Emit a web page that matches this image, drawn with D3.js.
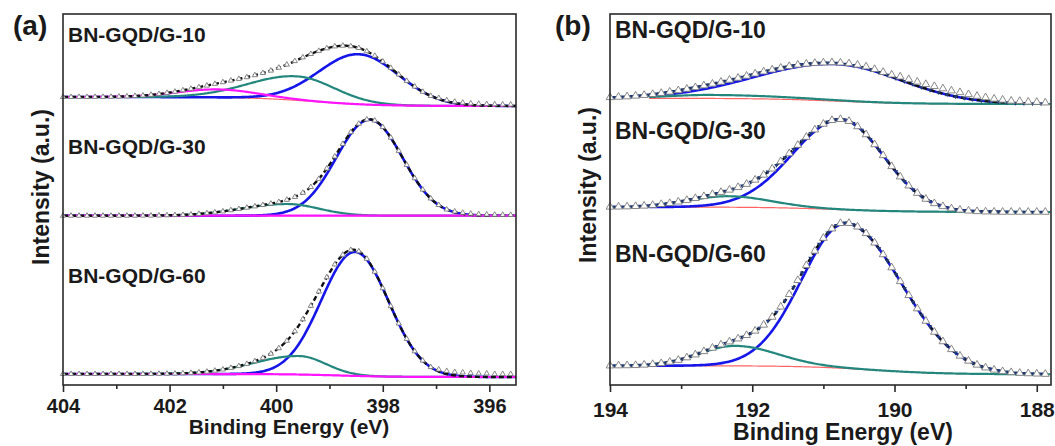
<!DOCTYPE html>
<meta charset="utf-8">
<script src="https://d3js.org/d3.v7.min.js"></script>
<style>
  body { margin: 0; background: #fff; }
  text { font-family: "Liberation Sans", Arial, sans-serif; font-weight: bold; fill: #1a1a1a; }
</style>
<div id="my_dataviz"></div>

<script>
var width = 1055
var height = 446

var samples = ["BN-GQD/G-10", "BN-GQD/G-30", "BN-GQD/G-60"]

// ---- (a) N 1s ----
// energy grid of the measured points (eV), intensities in arbitrary units
var energyA = d3.range(57).map(function(i){ return +(404 - 0.15 * i).toFixed(2) })
var dataA10 = [288.0,288.0,288.1,288.0,288.1,288.1,288.2,288.4,288.6,289.0,
               289.5,290.2,291.0,292.1,293.3,294.7,296.2,297.8,299.4,301.1,
               302.8,304.4,306.1,307.8,309.8,312.0,314.4,317.3,320.4,323.9,
               327.6,331.0,334.1,336.7,338.6,339.3,338.7,337.0,333.7,329.2,
               323.5,317.1,310.5,304.1,298.4,293.2,289.1,287.0,284.8,283.3,
               282.3,281.6,281.2,280.9,280.7,280.5,280.4]
var dataA30 = [169.3,169.3,169.3,169.3,169.3,169.3,169.3,169.3,169.3,169.3,
               169.4,169.4,169.5,169.7,169.9,170.1,170.5,171.1,171.8,172.6,
               173.6,174.8,176.0,177.3,178.6,180.0,181.4,183.0,185.2,188.1,
               192.2,198.0,206.1,216.5,228.5,241.1,252.8,261.3,265.5,264.4,
               257.9,247.4,234.1,220.1,206.8,195.4,186.5,180.0,175.5,173.5,
               172.2,171.3,170.8,170.5,170.3,170.2,170.1]
var dataA60 = [11.0,11.0,11.0,11.0,11.0,11.0,11.0,11.0,11.0,11.0,
               11.0,11.1,11.2,11.3,11.4,11.7,12.1,12.6,13.3,14.3,
               15.5,17.1,18.9,21.1,23.8,27.1,31.3,36.8,44.2,53.7,
               65.7,79.2,93.5,107.7,120.6,130.2,135.0,133.7,126.2,113.3,
               96.8,78.9,61.5,46.1,33.7,24.4,17.9,15.5,14.0,13.0,
               12.5,12.0,11.5,11.5,11.0,11.0,11.0]
// background [high-BE level, low-BE level, step centre, step width]
var bgA   = [[288, 279, 399.3, 0.6], [169.3, 169.3, 399, 0.6], [11, 8, 398.8, 0.5]]
// peaks [centre eV, height, sigma high-BE side, sigma low-BE side]
var blueA = [[398.45, 50, 0.75, 0.75], [398.25, 96, 0.62, 0.62], [398.52, 124, 0.63, 0.63]]
var tealA = [[399.6, 24, 0.9, 0.7], [399.8, 11.7, 0.85, 0.6], [399.57, 18.5, 0.85, 0.5]]
var pinkA = [[401.1, 8, 0.75, 0.75], [401.1, 0, 1, 1], [401.1, 0, 1, 1]]
var majorA = [404, 402, 400, 398, 396]
var minorA = [403, 401, 399, 397]

// ---- (b) B 1s ----
var energyB = d3.range(52).map(function(i){ return +(194 - 0.12 * i).toFixed(2) })
var dataB10 = [287.6,288.0,288.4,289.1,289.8,290.7,291.8,293.1,294.5,296.0,
               297.6,299.4,301.1,303.0,305.0,307.0,309.0,311.2,313.3,315.2,
               317.0,318.7,320.1,321.1,321.8,322.3,322.5,322.2,321.4,320.1,
               318.3,315.7,312.8,310.2,308.2,305.6,303.1,300.7,298.7,296.4,
               294.3,292.6,290.6,288.9,287.5,286.1,285.1,284.1,283.8,283.1,
               282.9,282.3]
var dataB30 = [178.1,178.2,178.4,178.7,179.1,179.8,180.7,181.7,183.2,184.8,
               186.7,188.6,190.7,192.8,195.1,197.7,200.9,205.1,210.1,216.2,
               223.5,231.5,239.9,247.9,255.3,261.0,264.7,265.7,263.8,258.5,
               250.5,240.5,229.6,218.6,208.3,199.3,191.9,186.0,181.6,178.6,
               176.4,175.1,174.2,173.6,173.3,173.1,173.0,173.0,173.0,173.0,
               173.0,173.0]
var dataB60 = [19.3,19.4,19.5,19.7,20.1,20.7,21.6,23.0,24.9,27.4,
               30.3,33.6,37.0,40.3,43.3,46.3,49.7,54.1,60.1,68.0,
               78.2,90.7,104.7,119.6,134.1,146.9,156.3,161.7,161.8,158.2,
               151.6,142.2,130.5,117.4,103.6,89.7,76.4,64.0,53.0,43.5,
               35.6,29.1,24.1,20.1,17.3,15.1,13.6,12.6,11.9,11.5,
               11.2,10.9]
var bgB   = [[286.7, 281, 190.8, 0.5], [178, 173, 190.8, 0.5], [19.3, 10.7, 190.3, 0.5]]
var blueB = [[190.82, 37, 1.12, 0.93], [190.75, 90, 0.68, 0.6], [190.68, 145, 0.62, 0.78]]
var tealB = [[192.6, 3.5, 0.6, 1.1], [192.34, 11, 0.55, 0.6], [192.24, 20, 0.5, 0.6]]
var majorB = [194, 192, 190, 188]
var minorB = [193, 191, 189]

var svg = d3.select("#my_dataviz")
  .append("svg")
    .attr("width", width)
    .attr("height", height)

function sig(z) { return 1 / (1 + Math.exp(-z)) }
function bgAt(b, e) { return b[1] + (b[0] - b[1]) * sig((e - b[2]) / b[3]) }
function peakAt(p, e) {
  if (!p) return 0
  var d = e - p[0]
  var s = d > 0 ? p[2] : p[3]
  return p[1] * Math.exp(-d * d / (2 * s * s))
}
function grid(a, b) { return d3.range(a, b - 0.001, -0.02) }

function drawPanel(p) {
  var x = d3.scaleLinear().domain(p.domain).range([p.left, p.right])
  var y = d3.scaleLinear().domain([0, 371]).range([385, 14])
  var g = svg.append("g")
  var line = d3.line().x(function(d){ return x(d[0]) }).y(function(d){ return y(d[1]) })

  p.data.forEach(function(pts, k) {
    var bg = p.bg[k], blue = p.blue[k], teal = p.teal[k], pink = p.pink ? p.pink[k] : null
    var env = function(e){ return bgAt(bg, e) + peakAt(blue, e) + peakAt(teal, e) + peakAt(pink, e) }
    var fit = grid(p.fit[0], p.fit[1])

    g.append("path")
      .datum(fit.map(function(e){ return [e, bgAt(bg, e)] }))
      .attr("d", line).attr("fill", "none")
      .attr("stroke", "#ff6464").attr("stroke-width", 1.2)
    g.append("path")
      .datum(grid(p.blueRange[0], p.blueRange[1]).map(function(e){ return [e, bgAt(bg, e) + peakAt(blue, e)] }))
      .attr("d", line).attr("fill", "none")
      .attr("stroke", "#1616e8").attr("stroke-width", 2.6)
    g.append("path")
      .datum(fit.map(function(e){ return [e, bgAt(bg, e) + peakAt(teal, e)] }))
      .attr("d", line).attr("fill", "none")
      .attr("stroke", "#23877e").attr("stroke-width", 2.2)
    if (pink) {
      g.append("path")
        .datum(fit.map(function(e){ return [e, bgAt(bg, e) + peakAt(pink, e)] }))
        .attr("d", line).attr("fill", "none")
        .attr("stroke", "#ff14ff").attr("stroke-width", 2.2)
    }
    g.append("path")
      .datum(grid(p.envRange[0], p.envRange[1]).map(function(e){ return [e, env(e)] }))
      .attr("d", line).attr("fill", "none")
      .attr("stroke", "#111").attr("stroke-width", 2.4)
      .attr("stroke-dasharray", "5,3")

    // fitted sum markers between the data points
    if (p.downMarks) {
      g.append("g").selectAll("path")
        .data(p.energy.slice(0, -1))
        .enter().append("path")
          .attr("d", d3.symbol().type(d3.symbolTriangle).size(9))
          .attr("transform", function(e){ var m = e - p.step / 2; return "translate(" + x(m) + "," + y(env(m)) + ") rotate(180)" })
          .attr("fill", "#1f3a78")
    }

    // measured points
    g.append("g").selectAll("path")
      .data(pts)
      .enter().append("path")
        .attr("d", d3.symbol().type(d3.symbolTriangle).size(p.triSize))
        .attr("transform", function(v, i){ return "translate(" + x(p.energy[i]) + "," + y(v) + ")" })
        .attr("fill", "#fff")
        .attr("stroke", "#7a7a7a")
        .attr("stroke-width", 0.9)

    g.append("text")
      .attr("x", p.left + 5)
      .attr("y", p.labelY[k])
      .style("font-size", p.labelSize + "px")
      .text(samples[k])
  })

  // frame
  g.append("rect")
    .attr("x", p.left).attr("y", 14)
    .attr("width", p.right - p.left).attr("height", 371)
    .attr("fill", "none").attr("stroke", "#2a2a2a").attr("stroke-width", 1.6)

  var ax = g.append("g")
    .attr("transform", "translate(0,385)")
    .call(d3.axisBottom(x).tickValues(p.major).tickSize(7).tickPadding(p.pad).tickFormat(d3.format("d")))
  ax.select(".domain").remove()
  ax.selectAll("line").attr("stroke", "#2a2a2a").attr("stroke-width", 1.6)
  ax.selectAll("text").style("font-size", p.tickSize + "px").attr("fill", "#1a1a1a")
    .style("font-family", "'Liberation Sans', Arial, sans-serif").style("font-weight", "bold")

  var mx = g.append("g")
    .attr("transform", "translate(0,385)")
    .call(d3.axisBottom(x).tickValues(p.minor).tickSize(4).tickFormat(""))
  mx.select(".domain").remove()
  mx.selectAll("line").attr("stroke", "#2a2a2a").attr("stroke-width", 1.6)

  g.append("text")
    .attr("x", p.titleX).attr("y", p.titleY)
    .attr("text-anchor", "middle")
    .style("font-size", p.titleSize + "px")
    .text("Binding Energy (eV)")

  g.append("text")
    .attr("transform", "translate(" + p.yTitleX + "," + p.yTitleY + ") rotate(-90)")
    .attr("text-anchor", "middle")
    .style("font-size", "23px")
    .text("Intensity (a.u.)")

  g.append("text")
    .attr("x", p.tagX).attr("y", 35)
    .style("font-size", "28px")
    .text(p.tag)
}

drawPanel({
  tag: "(a)", tagX: 13,
  left: 63, right: 516, domain: [404, 395.5],
  energy: energyA, step: 0.15, data: [dataA10, dataA30, dataA60],
  bg: bgA, blue: blueA, teal: tealA, pink: pinkA,
  fit: [404, 395.5], blueRange: [404, 395.5], envRange: [404, 395.5],
  triSize: 12, downMarks: false,
  labelY: [42, 154, 283], labelSize: 21,
  major: majorA, minor: minorA, pad: 7, tickSize: 20,
  titleX: 289, titleY: 434, titleSize: 21,
  yTitleX: 49, yTitleY: 187
})

drawPanel({
  tag: "(b)", tagX: 555,
  left: 610, right: 1051, domain: [194, 187.8],
  energy: energyB, step: 0.12, data: [dataB10, dataB30, dataB60],
  bg: bgB, blue: blueB, teal: tealB, pink: null,
  fit: [193.45, 187.8], blueRange: [193.45, 188.45], envRange: [193.45, 188.45],
  triSize: 26, downMarks: true,
  labelY: [38, 139, 262], labelSize: 23,
  major: majorB, minor: minorB, pad: 10, tickSize: 21,
  titleX: 843, titleY: 440, titleSize: 23,
  yTitleX: 596, yTitleY: 185
})
</script>
